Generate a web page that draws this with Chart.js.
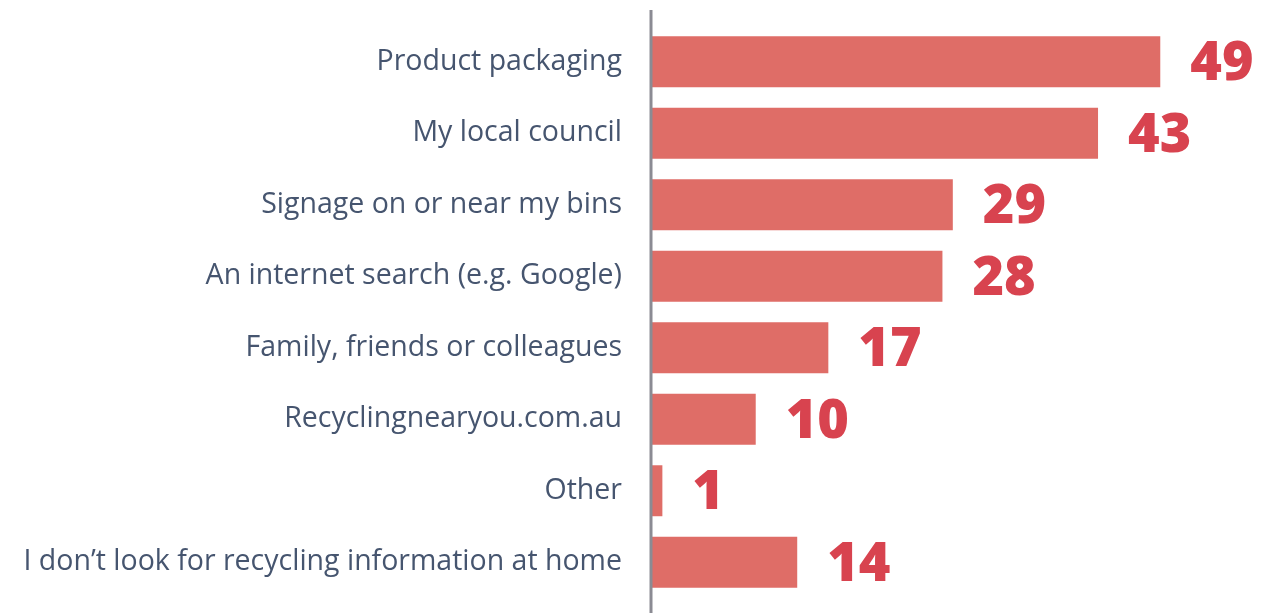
<!DOCTYPE html>
<html><head><meta charset="utf-8">
<script src="https://cdn.jsdelivr.net/npm/chart.js@4/dist/chart.umd.min.js"></script>
<style>html,body{margin:0;padding:0;background:#fff;overflow:hidden;}#wrap{width:1264px;height:613px;position:relative;}</style>
</head><body><div id="wrap"><canvas id="c"></canvas></div>
<script>
const categories = ["Product packaging","My local council","Signage on or near my bins","An internet search (e.g. Google)","Family, friends or colleagues","Recyclingnearyou.com.au","Other","I don\u2019t look for recycling information at home"];
const values = [49,43,29,28,17,10,1,14];

const axisLine = {
  id:'axisLine',
  afterDatasetsDraw(chart){
    const ctx=chart.ctx, x=chart.scales.x.getPixelForValue(0);
    ctx.save();ctx.strokeStyle='#8b8b93';ctx.lineWidth=3;
    ctx.beginPath();ctx.moveTo(x-1,10);ctx.lineTo(x-1,613);ctx.stroke();ctx.restore();
  }
};
const valueLabels = {
  id:'valueLabels',
  afterDatasetsDraw(chart){
    const ctx=chart.ctx, meta=chart.getDatasetMeta(0);
    ctx.save();ctx.fillStyle='#d8434f';ctx.font='800 54px "Open Sans"';
    ctx.textAlign='left';ctx.textBaseline='middle';
    meta.data.forEach((b,i)=>{ctx.fillText(String(values[i]), b.x+30, b.y+3);});
    ctx.restore();
  }
};
new Chart(document.getElementById('c'),{
  type:'bar',
  data:{labels:categories,datasets:[{data:values,backgroundColor:'#df6d67',borderWidth:0,barPercentage:0.713,categoryPercentage:1}]},
  options:{
    indexAxis:'y',responsive:true,maintainAspectRatio:false,animation:false,
    layout:{padding:{top:26,bottom:15,right:0,left:0}},
    plugins:{legend:{display:false},tooltip:{enabled:false}},
    scales:{
      x:{min:0,max:59,display:false,grid:{display:false}},
      y:{grid:{display:false,drawTicks:false},border:{display:false},
         ticks:{color:'#46556f',font:{family:'"Open Sans"',size:28.5},padding:30},
         afterFit(s){s.width=652;s.paddingTop=0;s.paddingBottom=0;}}
    }
  },
  plugins:[axisLine,valueLabels]
});
</script></body></html>
